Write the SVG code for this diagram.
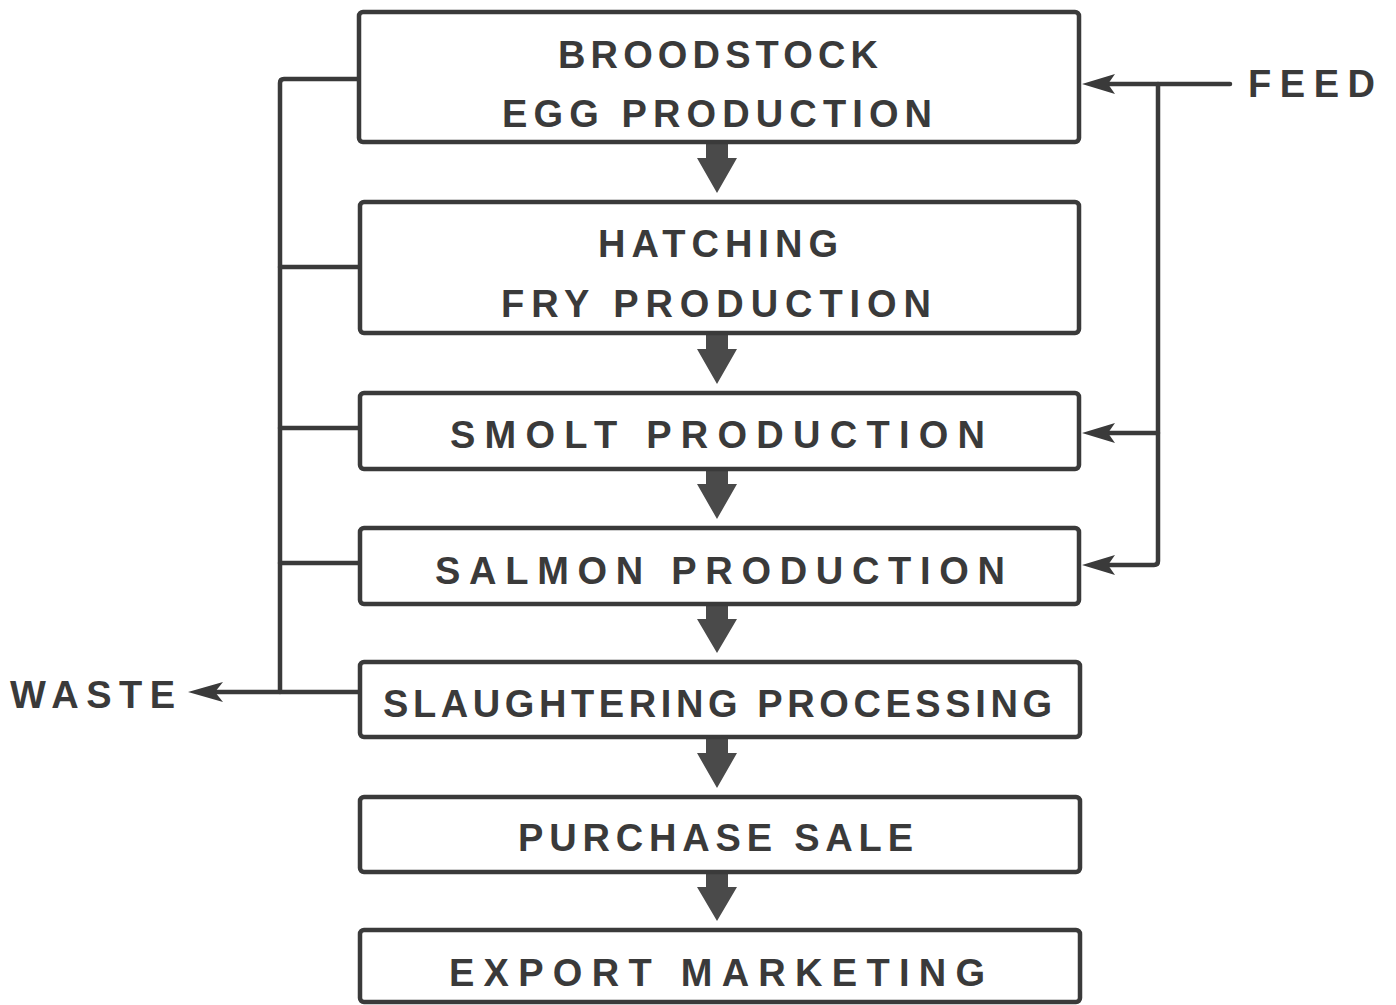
<svg xmlns="http://www.w3.org/2000/svg" width="1396" height="1005" viewBox="0 0 1396 1005">
<style>
.box{fill:#ffffff;stroke:#3a3a3a;stroke-width:4.5}
.t{font-family:"Liberation Sans",Arial,sans-serif;font-weight:bold;font-size:38px;fill:#3a3a3a}
.ln{fill:none;stroke:#3a3a3a;stroke-width:4.5;stroke-linejoin:round;stroke-linecap:round}
.ah{fill:#3a3a3a}
.flow{fill:#4a4a4a}
</style>
<rect width="1396" height="1005" fill="#ffffff"/>
<g id="connectors">
<path class="ln" d="M360,79 L284,79 Q280,79 280,83 L280,692"/>
<path class="ln" d="M280,267 L360,267"/>
<path class="ln" d="M280,428 L360,428"/>
<path class="ln" d="M280,563 L360,563"/>
<path class="ln" d="M360,692 L215,692"/>
<path class="ah" d="M188,692 L223,682 L215,692 L223,702 Z"/>
<path class="ln" d="M1230,84 L1105,84"/>
<path class="ah" d="M1082,84 L1115,74 L1108,84 L1115,94 Z"/>
<path class="ln" d="M1158,84 L1158,561 Q1158,565 1154,565 L1105,565"/>
<path class="ah" d="M1082,565 L1115,555 L1108,565 L1115,575 Z"/>
<path class="ln" d="M1158,433 L1105,433"/>
<path class="ah" d="M1082,433 L1115,423 L1108,433 L1115,443 Z"/>
<path class="flow" d="M706,142 L728,142 L728,158 L737,158 L717,193 L697,158 L706,158 Z"/>
<path class="flow" d="M706,333 L728,333 L728,349 L737,349 L717,384 L697,349 L706,349 Z"/>
<path class="flow" d="M706,469 L728,469 L728,484 L737,484 L717,519 L697,484 L706,484 Z"/>
<path class="flow" d="M706,604 L728,604 L728,619 L737,619 L717,653 L697,619 L706,619 Z"/>
<path class="flow" d="M706,737 L728,737 L728,753 L737,753 L717,788 L697,753 L706,753 Z"/>
<path class="flow" d="M706,872 L728,872 L728,887 L737,887 L717,921 L697,887 L706,887 Z"/>
</g>
<g id="broodstock">
<rect class="box" x="359" y="12" width="720" height="130" rx="4"/>
<text class="t" x="558" y="68" textLength="320" lengthAdjust="spacing">BROODSTOCK</text>
<text class="t" x="502" y="127" textLength="430" lengthAdjust="spacing">EGG PRODUCTION</text>
</g>
<g id="hatching">
<rect class="box" x="360" y="202" width="719" height="131" rx="4"/>
<text class="t" x="598" y="257" textLength="240" lengthAdjust="spacing">HATCHING</text>
<text class="t" x="501" y="317" textLength="430" lengthAdjust="spacing">FRY PRODUCTION</text>
</g>
<g id="smolt">
<rect class="box" x="360" y="393" width="719" height="76" rx="4"/>
<text class="t" x="450" y="448" textLength="535" lengthAdjust="spacing">SMOLT PRODUCTION</text>
</g>
<g id="salmon">
<rect class="box" x="360" y="528" width="719" height="76" rx="4"/>
<text class="t" x="435" y="584" textLength="570" lengthAdjust="spacing">SALMON PRODUCTION</text>
</g>
<g id="slaughtering">
<rect class="box" x="360" y="662" width="720" height="75" rx="4"/>
<text class="t" x="383" y="717" textLength="669" lengthAdjust="spacing">SLAUGHTERING PROCESSING</text>
</g>
<g id="purchase">
<rect class="box" x="360" y="797" width="720" height="75" rx="4"/>
<text class="t" x="518" y="851" textLength="395" lengthAdjust="spacing">PURCHASE SALE</text>
</g>
<g id="export">
<rect class="box" x="360" y="930" width="720" height="72" rx="4"/>
<text class="t" x="449" y="986" textLength="536" lengthAdjust="spacing">EXPORT  MARKETING</text>
</g>
<g id="waste">
<text class="t" x="10" y="708" textLength="165" lengthAdjust="spacing">WASTE</text>
</g>
<g id="feed">
<text class="t" x="1248" y="97" textLength="127" lengthAdjust="spacing">FEED</text>
</g>
</svg>
